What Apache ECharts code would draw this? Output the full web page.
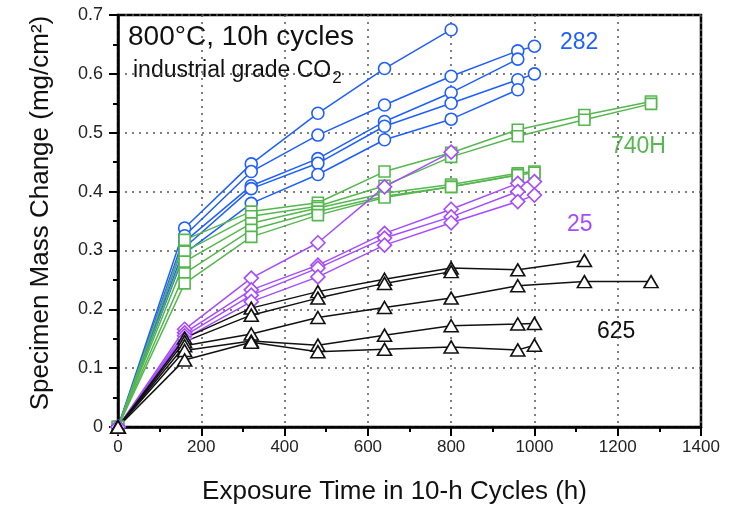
<!DOCTYPE html>
<html><head><meta charset="utf-8">
<script src="https://cdn.jsdelivr.net/npm/echarts@6/dist/echarts.min.js"></script>
<style>html,body{margin:0;padding:0;background:#fff}#c{width:733px;height:505px}</style>
</head><body><div id="c"></div>
<script>
// exposure times (h)
const xBase = [0, 160, 320, 480, 640, 800, 960, 1000, 1120, 1280];
const xTicks = [0, 200, 400, 600, 800, 1000, 1200, 1400];
const yTicks = [0, 0.1, 0.2, 0.3, 0.4, 0.5, 0.6, 0.7];

// alloy 282 (circles)
const a282_1 = [0, 0.338, 0.447, 0.533, 0.609, 0.675, null, null, null, null];
const a282_2 = [0, 0.325, 0.434, 0.496, 0.547, 0.596, 0.639, 0.647, null, null];
const a282_3 = [0, 0.315, 0.410, 0.456, 0.519, 0.568, 0.625, null, null, null];
const a282_4 = [0, 0.305, 0.405, 0.448, 0.511, 0.550, 0.590, 0.600, null, null];
const a282_5 = [0, 0.295, 0.380, 0.429, 0.488, 0.523, 0.573, null, null, null];

// alloy 740H (squares)
const a740_1 = [0, 0.318, 0.366, 0.381, 0.434, 0.466, 0.505, null, 0.530, 0.553];
const a740_2 = [0, 0.298, 0.358, 0.375, 0.410, 0.459, 0.494, null, 0.522, 0.549];
const a740_3 = [0, 0.281, 0.346, 0.372, 0.397, 0.412, 0.431, 0.434, null, null];
const a740_4 = [0, 0.261, 0.335, 0.366, 0.392, 0.408, 0.428, 0.432, null, null];
const a740_5 = [0, 0.244, 0.323, 0.360, 0.390, 0.408, 0.428, null, null, null];

// alloy 25 (diamonds)
const a25_1 = [0, 0.166, 0.253, 0.313, 0.408, 0.467, null, null, null, null];
const a25_2 = [0, 0.160, 0.233, 0.275, 0.329, 0.370, 0.414, 0.417, null, null];
const a25_3 = [0, 0.155, 0.224, 0.270, 0.321, 0.357, 0.400, null, null, null];
const a25_4 = [0, 0.150, 0.213, 0.255, 0.309, 0.347, 0.383, 0.394, null, null];

// alloy 625 (triangles)
const a625_1 = [0, 0.151, 0.202, 0.230, 0.251, 0.270, 0.267, null, 0.283, null];
const a625_2 = [0, 0.145, 0.190, 0.219, 0.244, 0.264, null, null, null, null];
const a625_3 = [0, 0.138, 0.158, 0.186, 0.203, 0.219, 0.240, null, 0.247, 0.247];
const a625_4 = [0, 0.130, 0.146, 0.139, 0.156, 0.172, 0.175, 0.176, null, null];
const a625_5 = [0, 0.114, 0.144, 0.128, 0.132, 0.136, 0.131, 0.139, null, null];

const FONT = '"Liberation Sans", Arial, Helvetica, sans-serif';
const BLUE = '#1f5fff', GREEN = '#55b84e', PURPLE = '#a64bff', BLACK = '#111';

function mk(vals, color, symbol, size) {
  return {
    type: 'line',
    data: xBase.map((x, i) => [x, vals[i]]).filter(d => d[1] != null),
    symbol: symbol, symbolSize: size, showAllSymbol: true,
    lineStyle: { color: color, width: 1.5 },
    itemStyle: { color: '#fff', borderColor: color, borderWidth: 1.6 },
    emphasis: { disabled: true }, animation: false
  };
}

const series = [];
[a282_1, a282_2, a282_3, a282_4, a282_5].forEach(v => series.push(mk(v, BLUE, 'circle', 12)));
[a740_1, a740_2, a740_3, a740_4, a740_5].forEach(v => series.push(mk(v, GREEN, 'rect', 11)));
[a25_1, a25_2, a25_3, a25_4].forEach(v => series.push(mk(v, PURPLE, 'diamond', [14, 14])));
[a625_1, a625_2, a625_3, a625_4, a625_5].forEach(v => series.push(mk(v, BLACK, 'triangle', [14, 12])));

const chart = echarts.init(document.getElementById('c'), null, { renderer: 'canvas' });
chart.setOption({
  animation: false,
  backgroundColor: '#fff',
  grid: { left: 118, right: 32, top: 15, bottom: 78, show: true, borderColor: '#000', borderWidth: 2.5,
          backgroundColor: 'transparent', outerBoundsMode: 'none', containLabel: false },
  xAxis: {
    type: 'value', min: xTicks[0], max: xTicks[xTicks.length - 1], interval: 200,
    name: 'Exposure Time in 10-h Cycles (h)', nameLocation: 'middle', nameGap: 52,
    nameTextStyle: { fontFamily: FONT, fontSize: 26, color: '#111', padding: [0, 30, 0, 0] },
    axisLine: { show: true, lineStyle: { color: '#000', width: 2.5 } },
    axisTick: { show: true, inside: false, length: 9, lineStyle: { color: '#000', width: 2 } },
    minorTick: { show: true, splitNumber: 2, length: 5, lineStyle: { color: '#000', width: 2 } },
    axisLabel: { fontFamily: FONT, fontSize: 17, color: '#222', margin: 12, formatter: v => String(v) },
    splitLine: { show: true, lineStyle: { color: '#555', type: [2, 5], width: 1.5 } }
  },
  yAxis: {
    type: 'value', min: yTicks[0], max: yTicks[yTicks.length - 1], interval: 0.1,
    name: 'Specimen Mass Change (mg/cm²)', nameLocation: 'middle', nameGap: 64, nameRotate: 90,
    nameTextStyle: { fontFamily: FONT, fontSize: 26, color: '#111', padding: [0, 0, 0, 16] },
    axisLine: { show: true, lineStyle: { color: '#000', width: 2.5 } },
    axisTick: { show: true, inside: false, length: 9, lineStyle: { color: '#000', width: 2 } },
    minorTick: { show: true, splitNumber: 2, length: 5, lineStyle: { color: '#000', width: 2 } },
    axisLabel: { fontFamily: FONT, fontSize: 18, color: '#222', margin: 15,
      formatter: v => (v === 0 ? '0' : v.toFixed(1)) },
    splitLine: { show: true, lineStyle: { color: '#555', type: [2, 5], width: 1.5 } }
  },
  graphic: [
    { type: 'text', left: 128, top: 23, style: { text: '800°C, 10h cycles', font: '28px ' + FONT, fill: '#111' } },
    { type: 'text', left: 133, top: 59, style: {
        text: '{a|industrial grade CO}{s|2}', fill: '#111',
        rich: { a: { fontFamily: FONT, fontSize: 23, lineHeight: 27, verticalAlign: 'top' },
                s: { fontFamily: FONT, fontSize: 17, lineHeight: 27, verticalAlign: 'top', padding: [11, 0, 0, 1] } } } },
    { type: 'text', left: 560, top: 31, style: { text: '282', font: '23px ' + FONT, fill: BLUE } },
    { type: 'text', left: 611, top: 135, style: { text: '740H', font: '23px ' + FONT, fill: GREEN } },
    { type: 'text', left: 567, top: 213, style: { text: '25', font: '23px ' + FONT, fill: PURPLE } },
    { type: 'text', left: 597, top: 320, style: { text: '625', font: '23px ' + FONT, fill: '#111' } }
  ],
  series: series
});
</script></body></html>
